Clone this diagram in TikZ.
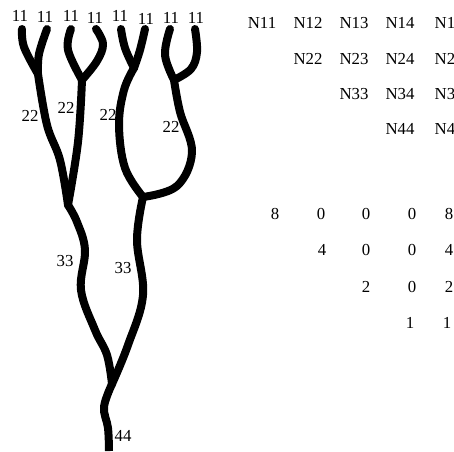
\documentclass[tikz,border=0pt]{standalone}
\usepackage{fontspec}
\setmainfont{Liberation Serif}
\tikzset{
  branch/.style={line width=8pt,line cap=round,line join=round,black,smooth,tension=0.62},
  lab/.style={font=\fontsize{16.8}{18}\selectfont,inner sep=0pt,black},
  cell/.style={lab,anchor=center},
  tail/.style={lab,anchor=west}
}
\begin{document}
\begin{tikzpicture}[x=1pt,y=-1pt]
\useasboundingbox (0,0) rectangle (454,451);

% Junctions of the tree
\coordinate (a) at (38,74);
\coordinate (b) at (82,80);
\coordinate (c) at (134,68);
\coordinate (d) at (174,80);
\coordinate (e) at (68,205);
\coordinate (f) at (143,197);
\coordinate (g) at (112,384);

% Leaf branches
\draw[branch] plot coordinates {(22,29) (24,47) (a)};
\draw[branch] plot coordinates {(47,29) (39,54) (a)};
\draw[branch] plot coordinates {(71,29) (68,50) (b)};
\draw[branch] plot coordinates {(96,29) (103,44) (97,61) (b)};
\draw[branch] plot coordinates {(121,29) (125,48) (c)};
\draw[branch] plot coordinates {(145,29) (140,50) (c)};
\draw[branch] plot coordinates {(170,29) (165,55) (d)};
\draw[branch] plot coordinates {(195,29) (197,52) (191,69) (d)};

% Second level
\draw[branch] plot coordinates {(a) (47,125) (60,160) (e)};
\draw[branch] plot coordinates {(b) (78,142) (e)};
\draw[branch] plot coordinates {(c) (124,90) (119,125) (125,168) (f)};
\draw[branch] plot coordinates {(d) (180,112) (192,152) (177,186) (f)};

% Third level
\draw[branch] plot coordinates {(e) (77,222) (85,250) (81,290) (95,330) (107,355) (g)};
\draw[branch] plot coordinates {(f) (137,240) (143,295) (128,345) (g)};

% Root
\draw[branch,line cap=butt] plot coordinates {(g) (104,407) (108,428) (109,451)};

% Leaf labels
\node[cell] (l1) at (20,16) {11};
\node[cell] (l2) at (45,17) {11};
\node[cell] (l3) at (71,16) {11};
\node[cell] (l4) at (95,18) {11};
\node[cell] (l5) at (120,16) {11};
\node[cell] (l6) at (146,19) {11};
\node[cell] (l7) at (171,18) {11};
\node[cell] (l8) at (196,18) {11};

% Inner labels
\node[cell] (m1) at (30,116) {22};
\node[cell] (m2) at (66,108) {22};
\node[cell] (m3) at (108,115) {22};
\node[cell] (m4) at (171,127) {22};
\node[cell] (n1) at (65,261) {33};
\node[cell] (n2) at (123,268) {33};
\node[cell] (r) at (123,436) {44};

% Upper table
\node[cell] (t11) at (262,23) {N11};
\node[cell] (t12) at (308,23) {N12};
\node[cell] (t13) at (354,23) {N13};
\node[cell] (t14) at (400,23) {N14};
\node[tail] (t15) at (434.5,23) {N1};
\node[cell] (t22) at (308,59) {N22};
\node[cell] (t23) at (354,59) {N23};
\node[cell] (t24) at (400,59) {N24};
\node[tail] (t25) at (434.5,59) {N2};
\node[cell] (t33) at (354,94) {N33};
\node[cell] (t34) at (400,94) {N34};
\node[tail] (t35) at (434.5,94) {N3};
\node[cell] (t44) at (400,129) {N44};
\node[tail] (t45) at (434.5,129) {N4};

% Lower table
\node[cell] (v11) at (275,214) {8};
\node[cell] (v12) at (321,214) {0};
\node[cell] (v13) at (366,214) {0};
\node[cell] (v14) at (412,214) {0};
\node[cell] (v15) at (449,214) {8};
\node[cell] (v22) at (322,250) {4};
\node[cell] (v23) at (366,250) {0};
\node[cell] (v24) at (412,250) {0};
\node[cell] (v25) at (449,250) {4};
\node[cell] (v33) at (366,287) {2};
\node[cell] (v34) at (412,287) {0};
\node[cell] (v35) at (449,287) {2};
\node[cell] (v44) at (410,323) {1};
\node[cell] (v45) at (447,323) {1};
\end{tikzpicture}
\end{document}
